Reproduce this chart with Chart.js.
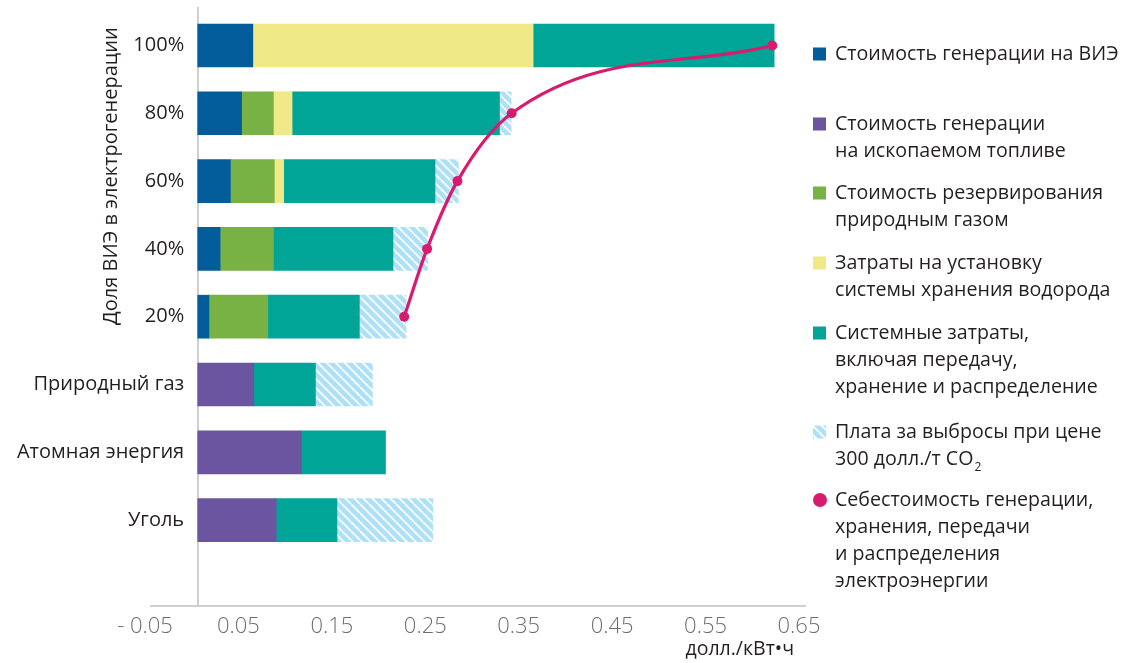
<!DOCTYPE html>
<html>
<head>
<meta charset="utf-8">
<script src="https://cdn.jsdelivr.net/npm/chart.js@4"></script>
<style>
  html, body { margin: 0; padding: 0; background: #ffffff; }
  #wrap { width: 1121px; height: 663px; position: relative; }
</style>
</head>
<body>
<div id="wrap"><canvas id="c" width="1121" height="663"></canvas></div>
<script>
// ---- data ----
const categories = ['100%', '80%', '60%', '40%', '20%', 'Природный газ', 'Атомная энергия', 'Уголь'];
const renewableGen = [0.059, 0.047, 0.035, 0.024, 0.012, null, null, null];
const fossilGen    = [null, null, null, null, null, 0.060, 0.111, 0.084];
const gasBackup    = [null, 0.034, 0.047, 0.057, 0.063, null, null, null];
const h2Storage    = [0.300, 0.020, 0.010, null, null, null, null, null];
const systemCosts  = [0.258, 0.222, 0.162, 0.128, 0.098, 0.066, 0.090, 0.065];
const carbonFee    = [null, 0.0125, 0.025, 0.037, 0.050, 0.061, null, 0.1025];
const totalCost    = [0.615, 0.336, 0.278, 0.2455, 0.221];
const xTickValues  = [-0.05, 0.05, 0.15, 0.25, 0.35, 0.45, 0.55, 0.65];
const xTickLabels  = ['- 0.05', '0.05', '0.15', '0.25', '0.35', '0.45', '0.55', '0.65'];
const xUnit = 'долл./кВт•ч';
const yTitle = 'Доля ВИЭ в электрогенерации';
const legendLines = [
  ['Стоимость генерации на ВИЭ'],
  ['Стоимость генерации', 'на ископаемом топливе'],
  ['Стоимость резервирования', 'природным газом'],
  ['Затраты на установку', 'системы хранения водорода'],
  ['Системные затраты,', 'включая передачу,', 'хранение и распределение'],
  ['Плата за выбросы при цене', '300 долл./т CO|2'],
  ['Себестоимость генерации,', 'хранения, передачи', 'и распределения', 'электроэнергии']
];

// ---- styles ----
const FONT = '"Open Sans", "Noto Sans", sans-serif';
const TEXT = '#231f20';
const C_BLUE = '#035d9b', C_PURPLE = '#6b55a0', C_GREEN = '#78b244',
      C_YELLOW = '#efe988', C_TEAL = '#00a597', C_HATCH = '#aee1f8', C_LINE = '#d81b6e';

function makeHatch() {
  const s = 9;
  const c = document.createElement('canvas');
  c.width = s; c.height = s;
  const g = c.getContext('2d');
  g.fillStyle = C_HATCH; g.fillRect(0, 0, s, s);
  g.strokeStyle = '#ffffff'; g.lineWidth = 1.8;
  for (let k = -1; k <= 1; k++) {
    g.beginPath(); g.moveTo(k * s, 0); g.lineTo(k * s + s, s); g.stroke();
  }
  return document.getElementById('c').getContext('2d').createPattern(c, 'repeat');
}
const hatch = makeHatch();

const toPts = arr => arr.map((v, i) => ({ x: v, y: i }));

function barSet(label, arr, color) {
  return { type: 'bar', label, data: toPts(arr), backgroundColor: color,
           borderWidth: 0, barThickness: 43, order: 1 };
}

const legendPlugin = {
  id: 'customText',
  afterDraw(chart) {
    const ctx = chart.ctx;
    ctx.save();
    // y-axis title (centered on renewable-share rows)
    const ys = chart.scales.y;
    const yc = (ys.getPixelForValue(0) + ys.getPixelForValue(4)) / 2 - 5;
    ctx.translate(111, yc);
    ctx.rotate(-Math.PI / 2);
    ctx.fillStyle = TEXT;
    ctx.font = '20px ' + FONT;
    ctx.textAlign = 'center'; ctx.textBaseline = 'middle';
    ctx.fillText(yTitle, 0, 0);
    ctx.setTransform(1, 0, 0, 1, 0, 0);
    // x unit
    ctx.font = '19.5px ' + FONT;
    ctx.textAlign = 'right'; ctx.textBaseline = 'middle';
    ctx.fillText(xUnit, 794, 649);
    // legend
    const itemY = [54, 124, 193, 263, 333, 432, 500];
    const lh = 27.2;
    const swatch = [C_BLUE, C_PURPLE, C_GREEN, C_YELLOW, C_TEAL, hatch, C_LINE];
    ctx.textAlign = 'left';
    legendLines.forEach((lines, i) => {
      const y0 = itemY[i];
      if (i === 6) {
        ctx.fillStyle = C_LINE;
        ctx.beginPath(); ctx.arc(820, y0, 7, 0, Math.PI * 2); ctx.fill();
      } else {
        ctx.fillStyle = swatch[i];
        ctx.fillRect(813, y0 - 6.5, 13, 13);
      }
      ctx.fillStyle = TEXT;
      lines.forEach((ln, j) => {
        const y = y0 + j * lh;
        ctx.font = '19.6px ' + FONT;
        if (ln.includes('|')) {
          const [main, sub] = ln.split('|');
          ctx.fillText(main, 835, y);
          const w = ctx.measureText(main).width;
          ctx.font = '12px ' + FONT;
          ctx.fillText(sub, 835 + w + 1, y + 8);
        } else {
          ctx.fillText(ln, 835, y);
        }
      });
    });
    ctx.restore();
  }
};

const Y_MIN = -0.553, Y_MAX = 8.267;

new Chart(document.getElementById('c'), {
  data: {
    datasets: [
      { type: 'line', indexAxis: 'x', label: legendLines[6].join(' '), data: toPts(totalCost), stack: 'line',
        borderColor: C_LINE, backgroundColor: C_LINE, borderWidth: 3.2, cubicInterpolationMode: 'monotone',
        pointRadius: 5, pointHoverRadius: 5, pointBackgroundColor: C_LINE, pointBorderWidth: 0, order: 0 },
      barSet(legendLines[0].join(' '), renewableGen, C_BLUE),
      barSet(legendLines[1].join(' '), fossilGen, C_PURPLE),
      barSet(legendLines[2].join(' '), gasBackup, C_GREEN),
      barSet(legendLines[3].join(' '), h2Storage, C_YELLOW),
      barSet(legendLines[4].join(' '), systemCosts, C_TEAL),
      barSet(legendLines[5].join(' '), carbonFee, hatch)
    ]
  },
  options: {
    indexAxis: 'y',
    responsive: false,
    animation: false,
    layout: { padding: { left: 151, right: 316, top: 8, bottom: 0 } },
    plugins: { legend: { display: false }, tooltip: { enabled: false } },
    scales: {
      x: {
        type: 'linear', min: -0.05, max: 0.65, stacked: true, offset: false,
        afterBuildTicks: s => { s.ticks = xTickValues.map(v => ({ value: v })); },
        afterFit: s => { s.height = 57; s.paddingTop = 0; s.paddingBottom = 0; },
        grid: { display: false, drawTicks: false },
        border: { display: true, color: '#cfcfcf', width: 2 },
        ticks: { padding: 8, labelOffset: -6, color: '#6d6e71',
                 font: { family: FONT, size: 22, weight: '300' },
                 callback: (v, i) => xTickLabels[i] }
      },
      y: {
        type: 'linear', reverse: true, min: Y_MIN, max: Y_MAX, stacked: true, offset: false,
        position: { x: -0.0145 },
        afterBuildTicks: s => { s.ticks = categories.map((c, i) => ({ value: i })); },
        afterFit: s => { s.paddingTop = 0; s.paddingBottom = 0; },
        grid: { display: false, drawTicks: false },
        border: { display: false },
        ticks: { padding: 0, color: TEXT, font: { family: FONT, size: 20 },
                 callback: v => categories[v] }
      },
      yAxisLine: {
        type: 'linear', axis: 'y', reverse: true, min: Y_MIN, max: Y_MAX, offset: false,
        position: { x: 0 },
        afterFit: s => { s.paddingTop = 0; s.paddingBottom = 0; },
        grid: { display: false, drawTicks: false },
        border: { display: true, color: '#cfcfcf', width: 2 },
        ticks: { display: false }
      }
    }
  },
  plugins: [legendPlugin]
});
</script>
</body>
</html>
